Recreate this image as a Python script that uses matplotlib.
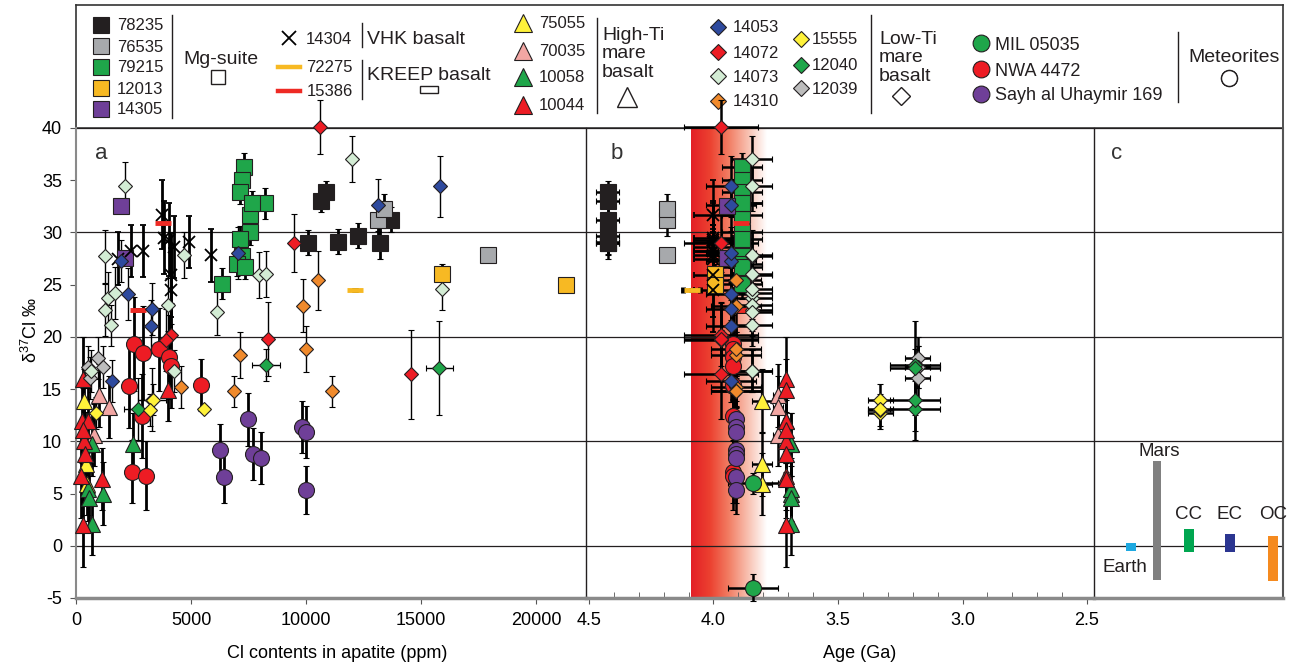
import numpy as np
import matplotlib.pyplot as plt
from matplotlib.lines import Line2D
from matplotlib.patches import Rectangle
from matplotlib.colors import LinearSegmentedColormap
from matplotlib.ticker import MultipleLocator

plt.rcParams['font.family'] = ['Liberation Sans', 'DejaVu Sans']
plt.rcParams['mathtext.fontset'] = 'custom'
plt.rcParams['mathtext.rm'] = 'Liberation Sans'
plt.rcParams['axes.unicode_minus'] = False

INK = '#231f20'

# ------------------------------------------------
# apatite d37Cl (permil) vs Cl content (ppm), 2 sigma
# ------------------------------------------------
# Mg-suite
cl_78235 = [10090, 10660, 10850, 11380, 12270, 13220, 13680]
d_78235 = [29.0, 33.0, 33.9, 29.1, 29.7, 29.0, 31.2]
e_78235 = [1.2, 1.0, 1.0, 1.2, 1.2, 1.5, 1.2]

cl_76535 = [13100, 13390, 17890]
d_76535 = [31.2, 32.2, 27.8]
e_76535 = [1.5, 1.5, 0.0]

cl_79215 = [7310, 7210, 7140, 7570, 8220, 7640, 7570, 7140, 7200, 6990, 7350, 6350]
d_79215 = [36.3, 35.0, 33.9, 31.7, 32.8, 32.8, 30.0, 29.4, 27.7, 27.0, 26.7, 25.1]
e_79215 = [1.3, 1.2, 1.2, 1.2, 1.5, 1.2, 1.2, 1.2, 1.2, 1.2, 1.2, 1.5]

cl_12013 = [15900, 21290]
d_12013 = [26.0, 25.0]
e_12013 = [1.0, 0.0]

cl_14305 = [1940, 2110]
d_14305 = [32.5, 27.6]
e_14305 = [0.0, 0.0]

# VHK and KREEP basalts
cl_14304 = [1810, 2400, 2890, 3750, 3840, 4050, 4270, 4910, 5850, 4120, 4120]
d_14304 = [27.5, 28.2, 28.2, 31.7, 29.5, 29.3, 28.6, 29.1, 27.8, 25.9, 24.5]
e_14304 = [2.5, 2.5, 2.5, 3.3, 3.5, 3.5, 3.0, 2.5, 2.5, 4.0, 4.0]

cl_72275 = [12140]
d_72275 = [24.5]
e_72275 = [0.0]

cl_15386 = [3760, 2715]
d_15386 = [30.9, 22.6]
e_15386 = [0.0, 0.0]

# high-Ti mare basalts
cl_75055 = [360, 430, 460]
d_75055 = [13.9, 7.8, 5.9]
e_75055 = [3.0, 3.0, 3.0]

cl_70035 = [1000, 1440, 780]
d_70035 = [14.4, 13.3, 10.6]
e_70035 = [3.0, 3.0, 3.0]

cl_10058 = [680, 2470, 1180, 510, 550, 680]
d_10058 = [9.7, 9.7, 5.0, 5.4, 4.6, 2.1]
e_10058 = [3.0, 3.0, 3.0, 3.0, 3.0, 3.0]

cl_10044 = [290, 260, 540, 340, 380, 220, 320, 3980, 1150, 300]
d_10044 = [16.0, 11.9, 11.9, 10.0, 8.8, 6.7, 2.0, 14.9, 6.4, 11.1]
e_10044 = [4.0, 4.0, 4.0, 4.0, 4.0, 4.0, 4.0, 3.0, 3.0, 4.0]

# low-Ti mare basalts
cl_14053 = [1970, 2260, 3290, 3260, 7030, 1580, 15830, 13100]
d_14053 = [27.3, 24.1, 22.7, 21.0, 28.0, 15.8, 34.4, 32.6]
e_14053 = [2.0, 2.5, 2.5, 2.5, 2.5, 2.0, 2.9, 2.5]

cl_14072 = [9470, 10620, 4120, 3910, 8360, 14570]
d_14072 = [29.0, 40.1, 20.2, 19.7, 19.8, 16.4]
e_14072 = [2.8, 2.6, 3.0, 3.0, 3.5, 4.3]

cl_14073 = [2110, 1280, 1250, 1390, 1710, 1540, 4010, 4700, 7960, 8250, 6110, 4270, 630,
            12000, 15900]
d_14073 = [34.4, 27.7, 22.6, 23.7, 24.2, 21.1, 23.1, 27.8, 25.9, 26.0, 22.4, 16.7, 16.7,
           37.0, 24.6]
e_14073 = [2.3, 2.5, 2.5, 2.5, 2.5, 2.0, 2.5, 2.2, 2.2, 2.2, 2.2, 2.0, 2.0, 2.2, 2.0]

cl_14310 = [9870, 10520, 7140, 9970, 4550, 6880, 11120]
d_14310 = [23.0, 25.4, 18.3, 18.8, 15.2, 14.8, 14.8]
e_14310 = [2.5, 2.8, 2.2, 2.2, 2.0, 1.5, 1.5]

cl_15555 = [890, 3330, 3200, 5560]
d_15555 = [12.7, 14.0, 13.0, 13.1]
e_15555 = [1.5, 1.5, 1.5, 0.0]

cl_12040 = [8260, 2690, 3300, 15790]
d_12040 = [17.3, 13.1, 14.0, 17.0]
e_12040 = [1.5, 3.0, 3.0, 4.5]

cl_12039 = [960, 1180, 530, 600]
d_12039 = [18.0, 17.1, 17.1, 16.1]
e_12039 = [2.0, 2.0, 2.0, 2.0]

# meteorites
cl_mil = []
d_mil = [6.0, -4.0]
e_mil = [1.0, 1.3]

cl_nwa = [2540, 2930, 3590, 4020, 4120, 2300, 5420, 2870, 2430, 3020]
d_nwa = [19.3, 18.5, 18.8, 18.1, 17.2, 15.3, 15.4, 12.4, 7.1, 6.7]
e_nwa = [4.5, 4.5, 4.0, 4.0, 4.0, 4.0, 2.5, 4.0, 3.0, 3.3]

cl_sau = [7460, 6250, 6450, 7670, 8050, 9800, 9980, 10010]
d_sau = [12.1, 9.2, 6.6, 8.8, 8.4, 11.4, 10.9, 5.3]
e_sau = [2.5, 2.5, 2.5, 2.5, 2.5, 2.5, 2.5, 2.3]

# crystallisation ages (Ga)
age_names = ['78235', '76535', '79215', '12013', '14305', '14304', '72275', '15386',
             '75055', '70035', '10058', '10044', '14053', '14072', '14073', '14310',
             '15555', '12040', '12039', 'MIL 05035', 'NWA 4472', 'Sayh al Uhaymir 169']
age_ga = [4.425, 4.186, 3.887, 3.994, 3.947, 4.00, 4.088, 3.89,
          3.806, 3.74, 3.69, 3.71, 3.93, 3.97, 3.847, 3.91,
          3.33, 3.19, 3.18, 3.84, 3.92, 3.91]
age_sd = [0.045, 0.01, 0.08, 0.02, 0.01, 0.08, 0.035, 0.01,
          0.04, 0.02, 0.01, 0.01, 0.1, 0.15, 0.08, 0.1,
          0.05, 0.1, 0.05, 0.1, 0.02, 0.02]

# late heavy bombardment window (Ga)
lhb = [4.09, 3.786]

# panel c: planetary / chondrite ranges
body_names = ['Earth', 'Mars', 'CC', 'EC', 'OC']
body_lo = [-0.5, -3.3, -0.6, -0.6, -3.4]
body_hi = [0.3, 8.1, 1.6, 1.1, 0.9]
body_colors = ['#1ea9e1', '#808080', '#00a650', '#2b3590', '#f58a1f']

cl_data = {'78235': (cl_78235, d_78235, e_78235), '76535': (cl_76535, d_76535, e_76535),
           '79215': (cl_79215, d_79215, e_79215), '12013': (cl_12013, d_12013, e_12013),
           '14305': (cl_14305, d_14305, e_14305), '14304': (cl_14304, d_14304, e_14304),
           '72275': (cl_72275, d_72275, e_72275), '15386': (cl_15386, d_15386, e_15386),
           '75055': (cl_75055, d_75055, e_75055), '70035': (cl_70035, d_70035, e_70035),
           '10058': (cl_10058, d_10058, e_10058), '10044': (cl_10044, d_10044, e_10044),
           '14053': (cl_14053, d_14053, e_14053), '14072': (cl_14072, d_14072, e_14072),
           '14073': (cl_14073, d_14073, e_14073), '14310': (cl_14310, d_14310, e_14310),
           '15555': (cl_15555, d_15555, e_15555), '12040': (cl_12040, d_12040, e_12040),
           '12039': (cl_12039, d_12039, e_12039), 'MIL 05035': (cl_mil, d_mil, e_mil),
           'NWA 4472': (cl_nwa, d_nwa, e_nwa), 'Sayh al Uhaymir 169': (cl_sau, d_sau, e_sau)}

# marker styles
sq = dict(marker='s', ms=11, mew=0.8, mec=INK)
tri = dict(marker='^', ms=12, mew=0.8, mec=INK)
dia = dict(marker='D', ms=7.5, mew=0.8, mec=INK)
cir = dict(marker='o', ms=11.5, mew=0.8, mec=INK)
style = {
    '78235': dict(sq, mfc=INK), '76535': dict(sq, mfc='#a7a9ac'),
    '79215': dict(sq, mfc='#1fa64a'), '12013': dict(sq, mfc='#f7b923'),
    '14305': dict(sq, mfc='#6f3f98'),
    '14304': dict(marker='x', ms=9, mew=1.3, mec='k', mfc='k'),
    '72275': dict(marker='_', ms=12, mew=3.5, mec='#f7b923', mfc='#f7b923'),
    '15386': dict(marker='_', ms=12, mew=3.5, mec='#ee2a24', mfc='#ee2a24'),
    '75055': dict(tri, mfc='#fff23a'), '70035': dict(tri, mfc='#f2a6a3'),
    '10058': dict(tri, mfc='#1fa64a'), '10044': dict(tri, mfc='#ed1c24'),
    '14053': dict(dia, mfc='#2e4a9e'), '14072': dict(dia, mfc='#ed1c24'),
    '14073': dict(dia, mfc='#d3ecd4'), '14310': dict(dia, mfc='#f08a2c'),
    '15555': dict(dia, mfc='#fff23a'), '12040': dict(dia, mfc='#1fa64a'),
    '12039': dict(dia, mfc='#bdbdbd'),
    'MIL 05035': dict(cir, mfc='#1fa64a'), 'NWA 4472': dict(cir, mfc='#ed1c24'),
    'Sayh al Uhaymir 169': dict(cir, mfc='#6f3f98'),
}
thin_bars = {'14053', '14072', '14073', '14310', '15555', '12040', '12039'}
draw_order = ['78235', '76535', '79215', '12013', '14305', '14304', '72275', '15386',
              '75055', '70035', '10058', '10044', 'MIL 05035', 'NWA 4472',
              'Sayh al Uhaymir 169', '12039', '12040', '15555', '14310', '14053',
              '14073', '14072']

W, H = 1294, 667
fig = plt.figure(figsize=(W / 100, H / 100), dpi=100)
y0, y1 = 128, 598
x_a, x_b, x_c, x_end = 76, 586, 1093.5, 1283


def rect(l, r, t, b):
    return [l / W, 1 - b / H, (r - l) / W, (b - t) / H]


ax_leg = fig.add_axes(rect(x_a, x_end, 5, y0))
ax_a = fig.add_axes(rect(x_a, x_b, y0, y1))
ax_b = fig.add_axes(rect(x_b, x_c, y0, y1), sharey=ax_a)
ax_c = fig.add_axes(rect(x_c, x_end, y0, y1), sharey=ax_a)
ax_leg.set_zorder(0)
for z, ax in enumerate((ax_a, ax_b, ax_c)):
    ax.set_facecolor('none')
    ax.set_zorder(1 + z)

ages = dict(zip(age_names, zip(age_ga, age_sd)))

for name in draw_order:
    st = style[name]
    cl, d, e = cl_data[name]
    kw = dict(fmt=st['marker'], ms=st['ms'], mfc=st['mfc'], mec=st['mec'], mew=st['mew'],
              ecolor='k', capsize=2.5, zorder=3, clip_on=False)
    if len(cl):
        lw = 1.0 if name in thin_bars else 2.0
        xe = [600] * len(cl) if name == '12040' else None
        ax_a.errorbar(cl, d[:len(cl)], yerr=e[:len(cl)], xerr=xe, elinewidth=lw,
                      capthick=lw, **kw)
    a, ae = ages[name]
    ax_b.errorbar(np.full(len(d), a), d, yerr=e, xerr=ae, elinewidth=1.8, capthick=1.8, **kw)

# LHB gradient band
cmap = LinearSegmentedColormap.from_list(
    'lhb', [(0, '#e31f26'), (0.25, '#ec4130'), (0.5, '#f27e64'), (0.75, '#f8c0b0'), (1, '#ffffff')])
ax_b.imshow(np.linspace(0, 1, 256).reshape(1, -1), extent=[lhb[0], lhb[1], -5, 40],
            aspect='auto', cmap=cmap, zorder=0)

# panel c bars
c_pos = [37, 63.5, 95.5, 136.5, 179.5]
c_w = [10, 8.5, 9.5, 9.5, 9.5]
ax_c.bar(c_pos, np.subtract(body_hi, body_lo), bottom=body_lo, width=c_w,
         color=body_colors, zorder=3)
for i, nm in enumerate(body_names):
    if nm == 'Earth':
        ax_c.text(c_pos[i] - 6, body_lo[i] - 1.6, nm, ha='center', va='center', fontsize=13.5,
                  color=INK)
    elif nm == 'Mars':
        ax_c.text(c_pos[i] + 2, body_hi[i] + 0.9, nm, ha='center', va='center', fontsize=13.5,
                  color=INK)
    else:
        ax_c.text(c_pos[i], 3.0, nm, ha='center', va='center', fontsize=13.5, color=INK)

# axes cosmetics
for ax in (ax_a, ax_b, ax_c):
    for yy in (0, 10, 20, 30, 40):
        ax.axhline(yy, color=INK, lw=0.9, zorder=1)
    ax.set_ylim(-5, 40)
    ax.spines['top'].set_visible(False)
    ax.spines['bottom'].set_color('#8a8a8a')
    ax.spines['bottom'].set_linewidth(2.5)

ax_a.set_xlim(0, 22155)
ax_a.set_xticks([0, 5000, 10000, 15000, 20000])
ax_a.set_yticks(range(-5, 45, 5))
ax_a.tick_params(axis='both', labelsize=13, color='#555555', length=4, pad=6)
ax_a.spines['left'].set_color('#8a8a8a')
ax_a.spines['left'].set_linewidth(1.5)
ax_a.spines['right'].set_color(INK)
ax_a.spines['right'].set_linewidth(1.0)
ax_a.set_xlabel('Cl contents in apatite (ppm)', fontsize=13)
ax_a.xaxis.set_label_coords(0.512, -0.1)
ax_a.set_ylabel('δ$^{37}$Cl ‰', fontsize=13)
ax_a.yaxis.set_label_coords(-0.068, 0.57)

ax_b.set_xlim(4.512, 2.474)
ax_b.set_xticks([4.5, 4.0, 3.5, 3.0, 2.5])
ax_b.set_xticklabels(['4.5', '4.0', '3.5', '3.0', '2.5'])
ax_b.xaxis.set_minor_locator(MultipleLocator(0.1))
ax_b.tick_params(axis='x', labelsize=13, color='#555555', length=4, pad=6)
ax_b.tick_params(axis='x', which='minor', direction='in', length=4, color='#555555')
ax_b.tick_params(axis='y', left=False, labelleft=False)
ax_b.spines['left'].set_visible(False)
ax_b.spines['right'].set_color(INK)
ax_b.spines['right'].set_linewidth(1.0)
ax_b.set_xlabel('Age (Ga)', fontsize=13)
ax_b.xaxis.set_label_coords(0.54, -0.1)

ax_c.set_xlim(0, 189.5)
ax_c.set_xticks([])
ax_c.tick_params(axis='y', left=False, labelleft=False)
ax_c.spines['left'].set_visible(False)
ax_c.spines['right'].set_color('#555555')
ax_c.spines['right'].set_linewidth(1.5)

for ax, lab, fx in ((ax_a, 'a', 0.05), (ax_b, 'b', 0.06), (ax_c, 'c', 0.12)):
    ax.text(fx, 0.945, lab, transform=ax.transAxes,
            fontsize=16, color='#333333', ha='center', va='center')

# ------------------------------------------------
# legend box (coordinates = figure pixels)
# ------------------------------------------------
ax_leg.set_xlim(x_a, x_end)
ax_leg.set_ylim(y0, 5)
ax_leg.set_xticks([])
ax_leg.set_yticks([])
for s in ax_leg.spines.values():
    s.set_color('#333333')
    s.set_linewidth(1.2)


def key(name, x, y, fs=12, hl=1.0, hh=0.7, pad=0.4, label=None, handle=None):
    if handle is None:
        st = style[name]
        handle = Line2D([], [], ls='none', marker=st['marker'], ms=st['ms'] * 1.05,
                        mfc=st['mfc'], mec=st['mec'], mew=st['mew'])
    lg = ax_leg.legend([handle], [name if label is None else label], loc='center left',
                       bbox_to_anchor=(x, y), bbox_transform=ax_leg.transData,
                       frameon=False, fontsize=fs, borderpad=0, borderaxespad=0,
                       handlelength=hl, handleheight=hh, handletextpad=pad,
                       labelcolor=INK)
    ax_leg.add_artist(lg)


def sep(x, ya, yb):
    ax_leg.plot([x, x], [ya, yb], color=INK, lw=1.0)


def group(x, y, txt):
    ax_leg.text(x, y, txt, fontsize=14, color=INK, ha='left', va='center', linespacing=1.1)


def icon(marker, x, y, ms, fs=12):
    key('', x - fs * 100 / 72 / 2, y, fs=fs, pad=0,
        handle=Line2D([], [], ls='none', marker=marker, ms=ms, mfc='white', mec=INK, mew=1.0))


# Mg-suite
for nm, yy in zip(['78235', '76535', '79215', '12013', '14305'], [26, 47, 68, 89, 110]):
    key(nm, 93, yy, pad=0.42)
sep(171.7, 15, 118)
group(183, 59, 'Mg-suite')
icon('s', 218, 78, 9.5)

# VHK / KREEP
key('14304', 281, 39, pad=0.5)
for nm, yy in zip(['72275', '15386'], [68, 92]):
    st = style[nm]
    key(nm, 278, yy, hl=1.3, pad=0.4, handle=Line2D([], [], color=st['mfc'], lw=3.2))
sep(361.7, 23, 47)
sep(361.7, 60, 99)
group(367, 39, 'VHK basalt')
group(367, 76, 'KREEP basalt')
key('', 420, 91, hl=1.08, hh=0.24, pad=0,
    handle=Rectangle((0, 0), 1, 1, fc='white', ec=INK, lw=1.0))

# High-Ti
for nm, yy in zip(['75055', '70035', '10058', '10044'], [24, 52, 78, 106]):
    key(nm, 515, yy, pad=0.42)
sep(597, 18, 113)
group(602, 54, 'High-Ti\nmare\nbasalt')
icon('^', 627, 98, 14)

# Low-Ti
for nm, yy in zip(['14053', '14072', '14073', '14310'], [28, 53, 77, 102]):
    key(nm, 709.7, yy, pad=0.37)
for nm, yy in zip(['15555', '12040', '12039'], [40, 66, 89]):
    key(nm, 792.7, yy, pad=0.16)
sep(870.5, 15, 113)
group(879, 58, 'Low-Ti\nmare\nbasalt')
icon('D', 901, 97, 9.5)

# Meteorites
for nm, yy in zip(['MIL 05035', 'NWA 4472', 'Sayh al Uhaymir 169'], [45, 71, 96]):
    key(nm, 972, yy, fs=13, pad=0.27)
sep(1178, 32, 102)
group(1188, 57, 'Meteorites')
icon('o', 1229, 79, 11.5)

fig.savefig('out.png', dpi=100)
